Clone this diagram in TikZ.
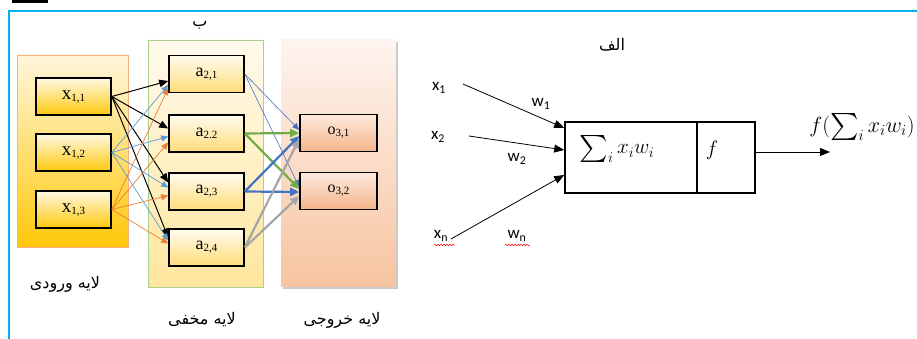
\documentclass[tikz,border=0pt]{standalone}
\usepackage{fix-cm}
\usepackage{exscale}
\usepackage{fontspec}
\setmainfont{Liberation Serif}
\newfontfamily\calib{Carlito}
\newfontfamily\fa[Script=Arabic]{DejaVu Sans}
\TeXXeTstate=1
\usetikzlibrary{arrows.meta,shadows,calc,decorations.pathmorphing}

\definecolor{frameblue}{HTML}{00B0F0}
\definecolor{intop}{HTML}{FFF6DC}
\definecolor{inbot}{HTML}{FFC80A}
\definecolor{inborder}{HTML}{F4B183}
\definecolor{xtop}{HTML}{FFF8E4}
\definecolor{xbot}{HTML}{FFC90E}
\definecolor{hidtop}{HTML}{FFFAEC}
\definecolor{hidbot}{HTML}{FFE69E}
\definecolor{hidborder}{HTML}{A9D18E}
\definecolor{atop}{HTML}{FFFBEF}
\definecolor{abot}{HTML}{FFDC78}
\definecolor{outtop}{HTML}{FEF4EF}
\definecolor{outbot}{HTML}{F7C4A0}
\definecolor{otop}{HTML}{FCEADF}
\definecolor{obot}{HTML}{F5B58A}
\definecolor{lblue}{HTML}{5B9BD5}
\definecolor{dblue}{HTML}{4472C4}
\definecolor{orng}{HTML}{ED7D31}
\definecolor{grn}{HTML}{70AD47}
\definecolor{gry}{HTML}{A5A5A5}

% label with a lowered, smaller index
\newcommand{\idx}[3]{{\fontsize{#3}{#3}\selectfont #1}\raisebox{-2pt}{\fontsize{11}{11}\selectfont #2}}
% weighted sum, sigma slightly enlarged
\newcommand{\wsum}{\mathop{\vcenter{\hbox{\scalebox{1.3}{$\sum$}}}}\nolimits_i x_i w_i}
\usepackage{graphicx}

\begin{document}
\begin{tikzpicture}[x=1pt,y=-1pt,
  layer/.style={minimum width=115pt,minimum height=247pt,inner sep=0pt},
  unit/.style={draw=black,line width=1.6pt,minimum width=75pt,minimum height=37pt,inner sep=0pt},
  tip/.style={-{Triangle[length=7pt,width=6pt]}},
  blacktip/.style={-{Triangle[length=9pt,width=7.5pt]}},
  bigtip/.style={-{Triangle[length=10pt,width=8pt]}},
  fatip/.style={-{Triangle[length=9pt,width=8pt]}},
  farsi/.style={font=\fa\fontsize{16}{18}\selectfont,inner sep=0pt},
  lab/.style={font=\calib\fontsize{17}{18}\selectfont,inner sep=0pt},
  summath/.style={inner sep=0pt,font=\fontsize{21}{25}\selectfont},
  outmath/.style={inner sep=0pt,font=\fontsize{22}{26}\selectfont},
  wavy/.style={red,line width=0.5pt,decorate,decoration={snake,amplitude=0.7pt,segment length=3pt}}
]
\useasboundingbox (0,0) rectangle (917,339);

% frame
\fill[black] (12,0) rectangle (48,3);
\draw[frameblue,line width=2.5pt] (917,11) -- (9,11) -- (9,339);

% ---------- network (left) ----------
\node[layer,draw=inborder,line width=0.6pt,minimum width=111pt,minimum height=192pt,
      top color=intop,bottom color=inbot] (inlayer) at (72.5,151) {};
\node[layer,draw=hidborder,line width=0.8pt,top color=hidtop,bottom color=hidbot] (hidlayer) at (205.5,163.5) {};
\node[layer,minimum height=246pt,top color=outtop,bottom color=outbot,
      drop shadow={shadow xshift=2pt,shadow yshift=-2.5pt,opacity=0.35,fill=black!60}] (outlayer) at (338.5,163) {};

\foreach \n/\y/\s in {x11/96.5/{1,1},x12/152.5/{1,2},x13/209.5/{1,3}}
  \node[unit,top color=xtop,bottom color=xbot] (\n) at (73.5,\y) {\idx{x}{\s}{19}};
\foreach \n/\y/\s in {a21/74/{2,1},a22/133.5/{2.2},a23/191.5/{2,3},a24/247.5/{2,4}}
  \node[unit,top color=atop,bottom color=abot] (\n) at (206.5,\y) {\idx{a}{\s}{18}};
\foreach \n/\y/\s in {o31/133/{3,1},o32/191/{3,2}}
  \node[unit,minimum width=77pt,top color=otop,bottom color=obot] (\n) at (338.5,\y) {\idx{o}{\s}{16}};

% input -> hidden
\foreach \t/\d in {a21/7,a22/-5,a23/-9,a24/-10}
  \draw[blacktip,black,line width=1pt] (x11.east) -- ($(\t.west)+(0,\d)$);
\foreach \t/\d in {a21/11,a22/3,a23/-4,a24/-7}
  \draw[tip,lblue,line width=0.7pt] (x12.east) -- ($(\t.west)+(0,\d)$);
\foreach \t/\d in {a21/14,a22/9,a23/4,a24/-4}
  \draw[tip,orng,line width=0.7pt] (x13.east) -- ($(\t.west)+(0,\d)$);

% hidden -> output
\draw[tip,dblue,line width=0.6pt] (a21.east) -- ($(o31.west)+(0,-3)$);
\draw[tip,dblue,line width=0.6pt] (a21.east) -- ($(o32.west)+(0,-4)$);
\draw[fatip,grn,line width=2.2pt] (a22.east) -- ($(o31.west)+(0,0)$);
\draw[fatip,grn,line width=2.2pt] (a22.east) -- ($(o32.west)+(0,-2)$);
\draw[fatip,dblue,line width=2.2pt] (a23.east) -- ($(o31.west)+(0,3)$);
\draw[fatip,dblue,line width=2.2pt] (a23.east) -- ($(o32.west)+(0,1)$);
\draw[fatip,gry,line width=2.2pt] (a24.east) -- ($(o31.west)+(0,6)$);
\draw[fatip,gry,line width=2.2pt] (a24.east) -- ($(o32.west)+(0,5)$);

% captions
\node[farsi] (capb) at (200,25) {\beginR ب\endR};
\node[farsi] (capin) at (65,284) {\beginR لایه ورودی\endR};
\node[farsi] (caphid) at (202,320) {\beginR لایه مخفی\endR};
\node[farsi] (capout) at (342,320) {\beginR لایه خروجی\endR};

% ---------- single neuron (right) ----------
\node[farsi] (capa) at (612,45) {\beginR الف\endR};

\node[draw,line width=1.6pt,minimum width=132pt,minimum height=71pt,inner sep=0pt] (sumpart) at (631,157.5) {};
\node[draw,line width=1.6pt,minimum width=58pt,minimum height=71pt,inner sep=0pt] (fpart) at (726,157.5) {};
\node[summath] (sumtxt) at (617,149) {$\wsum$};
\node[summath] (ftxt) at (712,150) {$f$};

\node[lab] (x1) at (439,88) {x\textsubscript{1}};
\node[lab] (x2) at (438,137) {x\textsubscript{2}};
\node[lab] (xn) at (441,236) {x\textsubscript{n}};
\node[lab] (w1) at (541,104) {w\textsubscript{1}};
\node[lab] (w2) at (517,159) {w\textsubscript{2}};
\node[lab] (wn) at (517,236) {w\textsubscript{n}};

\coordinate (s1) at (463,84);
\coordinate (s2) at (469,136);
\coordinate (sn) at (451,239);
\draw[bigtip,black,line width=0.8pt] (s1) -- ($(sumpart.west)+(0,-29.5)$);
\draw[bigtip,black,line width=0.8pt] (s2) -- ($(sumpart.west)+(0,-7.5)$);
\draw[bigtip,black,line width=0.8pt] (sn) -- ($(sumpart.west)+(0,17.5)$);

\coordinate (outend) at (830,152);
\draw[bigtip,black,line width=0.8pt] ($(fpart.east)+(0,-5.5)$) -- (outend);
\node[outmath] (outtxt) at (862,127) {$f(\wsum)$};

% spelling marks under the last input
\draw[wavy] (434,245) -- (455,245);
\draw[wavy] (505,245) -- (530,245);
\end{tikzpicture}
\end{document}
